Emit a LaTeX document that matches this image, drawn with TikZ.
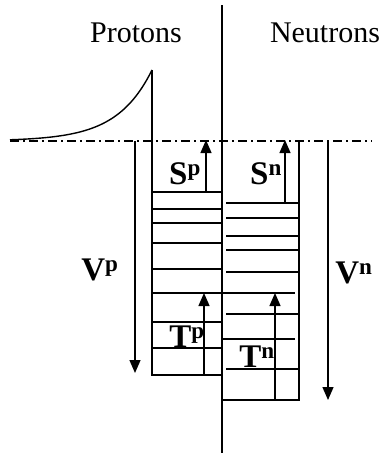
\documentclass[tikz,border=0pt]{standalone}
\usepackage{fontspec}
\setmainfont{Liberation Serif}
\usetikzlibrary{arrows.meta}
\newcommand{\qlab}[2]{#1\textsuperscript{#2}}

\begin{document}
\begin{tikzpicture}[x=1pt,y=-1pt,>={Triangle[length=13pt,width=11pt]},line width=1.4pt,every node/.style={font=\fontsize{30}{36}\selectfont,inner sep=0pt}]
\tikzset{level/.style={line width=1.3pt},arrow/.style={->,line width=1.3pt},sublab/.style={font=\fontsize{33}{38}\selectfont\bfseries}}
\useasboundingbox (0,0) rectangle (383,453);
% titles and dividing line
\node (prot) at (136,33) {Protons};
\node (neut) at (325,33) {Neutrons};
\draw (222,5) -- (222,453);
% zero energy line and Coulomb tail
\draw[line width=1.2pt,dash pattern=on 9pt off 4pt on 2pt off 4pt] (10,141) -- (372,141);
\draw plot[domain=10:152,samples=60] (\x,{141-71*exp((\x-152)/35)});
% proton well
\draw (152,70) -- (152,375) -- (222,375);
\foreach \y in {192,209,223,243,269,322,348}
  \draw[level] (152,\y) -- (222,\y);
\draw[level] (152,293) -- (295,293);
% neutron well
\draw (299,141) -- (299,400) -- (222,400);
\foreach \y in {203,218,236,250,272,314,369}
  \draw[level] (226,\y) -- (299,\y);
\draw[level] (222,339) -- (295,339);
% arrows
\coordinate (sp0) at (206,192); \coordinate (sp1) at (206,140);
\coordinate (sn0) at (285,203); \coordinate (sn1) at (285,140);
\coordinate (tp0) at (204,375); \coordinate (tp1) at (204,293);
\coordinate (tn0) at (275,400); \coordinate (tn1) at (275,293);
\coordinate (vp0) at (135,141); \coordinate (vp1) at (135,373);
\coordinate (vn0) at (328,141); \coordinate (vn1) at (328,400);
\draw[arrow] (sp0) -- (sp1);
\draw[arrow] (sn0) -- (sn1);
\draw[arrow] (tp0) -- (tp1);
\draw[arrow] (tn0) -- (tn1);
\draw[arrow] (vp0) -- (vp1);
\draw[arrow] (vn0) -- (vn1);
% labels
\node[sublab] (Sp) at (185,174) {\qlab{S}{p}};
\node[sublab] (Sn) at (266,174) {\qlab{S}{n}};
\node[sublab] (Vp) at (100,270) {\qlab{V}{p}};
\node[sublab] (Vn) at (354,273) {\qlab{V}{n}};
\node[sublab] (Tp) at (187,337) {\qlab{T}{p}};
\node[sublab] (Tn) at (257,357) {\qlab{T}{n}};
\end{tikzpicture}
\end{document}
